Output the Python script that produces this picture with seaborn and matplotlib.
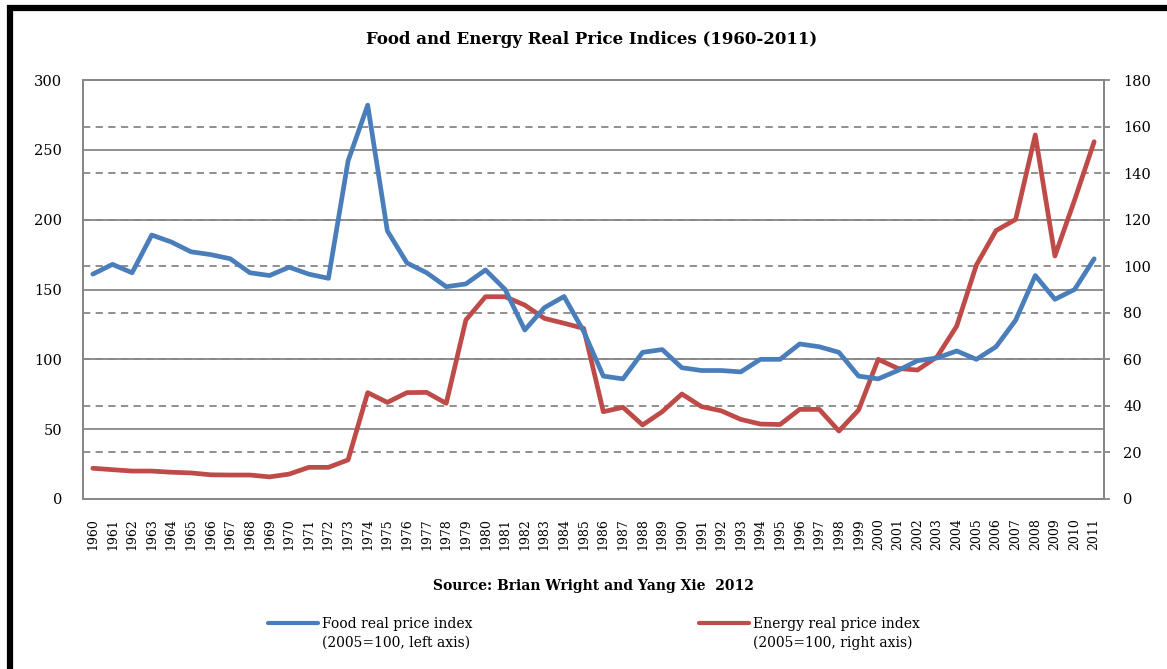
import numpy as np
import pandas as pd
import matplotlib
matplotlib.use("Agg")
import matplotlib.pyplot as plt
import seaborn as sns
from matplotlib.lines import Line2D

years = list(range(1960, 2012))
food_index = [161, 168, 162, 189, 184, 177, 175, 172, 162, 160, 166, 161, 158, 242, 282,
              192, 169, 162, 152, 154, 164, 150, 121, 137, 145, 120, 88, 86, 105, 107,
              94, 92, 92, 91, 100, 100, 111, 109, 105, 88, 86, 92, 99, 101, 106, 100,
              109, 128, 160, 143, 150, 172]
energy_index = [13.2, 12.6, 12.0, 12.0, 11.5, 11.2, 10.4, 10.3, 10.3, 9.5, 10.7, 13.6, 13.6,
                16.8, 45.7, 41.5, 45.7, 45.8, 41.1, 76.9, 86.9, 86.9, 83.3, 77.6, 75.5, 73.3,
                37.5, 39.4, 31.8, 37.5, 45.1, 39.7, 37.9, 34.2, 32.2, 32.0, 38.5, 38.5, 29.2,
                38.2, 60.0, 56.1, 55.4, 61.1, 74.3, 100.5, 115.3, 120.1, 156.4, 104.4, 128.4,
                153.5]
left_ticks = [0, 50, 100, 150, 200, 250, 300]
right_ticks = [0, 20, 40, 60, 80, 100, 120, 140, 160, 180]
title = "Food and Energy Real Price Indices (1960-2011)"
source = "Source: Brian Wright and Yang Xie  2012"
food_label = ["Food real price index", "(2005=100, left axis)"]
energy_label = ["Energy real price index", "(2005=100, right axis)"]

df = pd.DataFrame({"year": years, "food": food_index, "energy": energy_index})

sns.set_theme(style="white")
plt.rcParams['font.family'] = ['DejaVu Serif']
plt.rcParams['text.color'] = 'black'
plt.rcParams['xtick.color'] = 'black'
plt.rcParams['ytick.color'] = 'black'

BLUE = "#4a7ebb"
RED = "#be4b48"
GRID = "#878787"

W, H = 1167, 669
fig = plt.figure(figsize=(W / 100, H / 100), dpi=100)
fig.patch.set_facecolor("white")
ax = fig.add_axes([83 / W, 1 - 499 / H, (1104 - 83) / W, (499 - 80) / H])
ax2 = ax.twinx()
ax3 = ax.twinx()

# left axis: solid grid
ax.set_ylim(0, 300)
ax.set_yticks(left_ticks)
ax.set_xlim(1959.5, 2011.5)
ax.set_xticks(years)
ax.set_xticklabels([str(y) for y in years], rotation=90, fontsize=9)
ax.yaxis.grid(True, color=GRID, lw=1.3, ls="-")
ax.xaxis.grid(False)
ax.tick_params(axis="y", length=0, pad=15, labelsize=10.5, labelcolor="black")
ax.tick_params(axis="x", length=0, pad=14, labelcolor="black")
for s in ax.spines.values():
    s.set_color(GRID)
    s.set_linewidth(1.3)

# right axis: dashed grid + energy line
ax2.set_ylim(0, 180)
ax2.set_yticks(right_ticks)
ax2.yaxis.grid(True, color=GRID, lw=1.3, ls=(0, (4, 3)))
ax2.tick_params(axis="y", length=4, width=1.3, color=GRID, pad=10, labelsize=10.5,
                labelcolor="black")
for s in ax2.spines.values():
    s.set_color(GRID)
    s.set_linewidth(1.3)
sns.lineplot(data=df, x="year", y="energy", ax=ax2, color=RED, lw=3.4, legend=False)
ax2.set_ylabel("")
ax2.set_xlabel("")

# top layer: food line on left scale
sns.lineplot(data=df, x="year", y="food", ax=ax3, color=BLUE, lw=3.4, legend=False)
ax3.set_xlim(1959.5, 2011.5)
ax3.set_ylim(0, 300)
ax3.axis("off")
ax.set_xlabel("")
ax.set_ylabel("")

fig.text(592 / W, 1 - 40 / H, title, ha="center", va="center",
         fontsize=12, fontweight="bold")
fig.text(593 / W, 1 - 586 / H, source, ha="center", va="center",
         fontsize=10, fontweight="bold")

h1 = Line2D([], [], color=BLUE, lw=3)
h2 = Line2D([], [], color=RED, lw=3)
legs = []
for h, lab, x0 in [(h1, food_label, 268 / W), (h2, energy_label, 699 / W)]:
    leg = fig.legend([h], [lab[0]], loc="center left", bbox_to_anchor=(x0, 1 - 624 / H),
                     frameon=False, fontsize=10, handlelength=3.6, handletextpad=0.3,
                     borderpad=0, borderaxespad=0)
    legs.append((leg, lab[1]))

fig.canvas.draw()
inv = fig.transFigure.inverted()
for leg, line2 in legs:
    bb = leg.get_texts()[0].get_window_extent()
    x_fig, _ = inv.transform((bb.x0, bb.y0))
    fig.text(x_fig, 1 - 643 / H, line2, ha="left", va="center", fontsize=10)

# partial black frame (left + top)
border = Line2D([10 / W, 10 / W, 1.01], [-0.01, 1 - 8 / H, 1 - 8 / H],
                transform=fig.transFigure, color="black", lw=4.5,
                solid_joinstyle="miter", solid_capstyle="butt")
fig.add_artist(border)

fig.savefig("out.png", dpi=100, facecolor="white")
